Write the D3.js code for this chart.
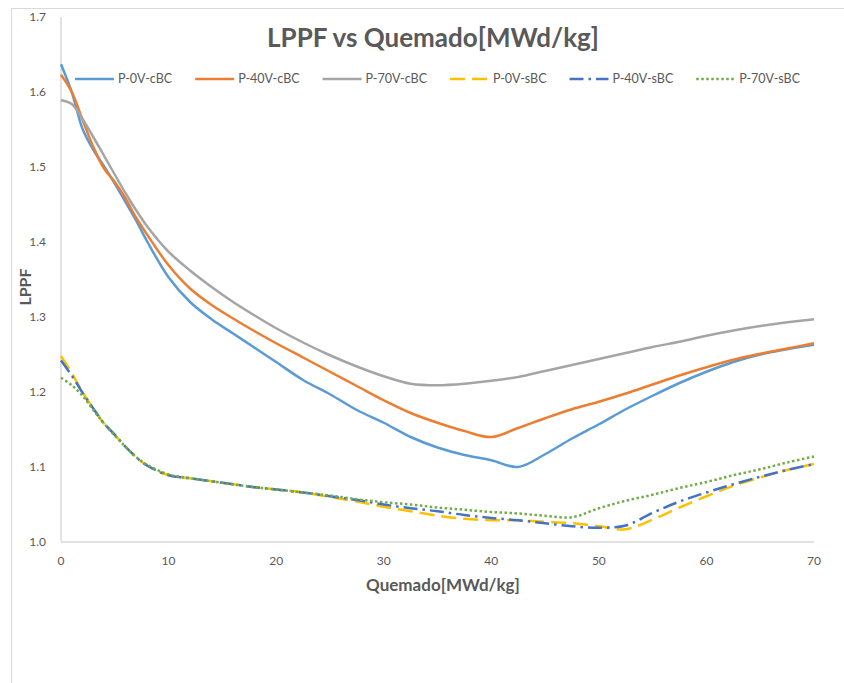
<!DOCTYPE html>
<html>
<head>
<meta charset="utf-8">
<script src="https://cdn.jsdelivr.net/npm/d3@7"></script>
<style>
  body { margin: 0; background: #fff; }
  svg text { font-family: Lato, "Open Sans", sans-serif; fill: #595959; }
</style>
</head>
<body>
<div id="chart"></div>
<script>
// Burnup steps (MWd/kg)
const burnup = [0, 1, 2, 3, 4, 5, 6, 7, 8, 10, 12, 14, 16, 18, 20, 22.5, 25, 27.5, 30, 32.5, 35,
  37.5, 40, 42.5, 45, 47.5, 50, 52.5, 55, 57.5, 60, 62.5, 65, 67.5, 70];

const p0cBC = [1.637, 1.600, 1.551, 1.523, 1.501, 1.478, 1.453, 1.428, 1.401, 1.353, 1.320, 1.297, 1.278, 1.259, 1.240,
  1.216, 1.197, 1.176, 1.159, 1.140, 1.126, 1.116, 1.109, 1.100, 1.117, 1.138, 1.157, 1.177, 1.195, 1.212, 1.227,
  1.240, 1.250, 1.257, 1.263];
const p40cBC = [1.623, 1.600, 1.563, 1.527, 1.498, 1.480, 1.458, 1.432, 1.410, 1.369, 1.338, 1.316, 1.298, 1.281, 1.265,
  1.246, 1.227, 1.208, 1.189, 1.172, 1.159, 1.148, 1.140, 1.152, 1.165, 1.177, 1.187, 1.198, 1.210, 1.222, 1.233,
  1.243, 1.251, 1.258, 1.265];
const p70cBC = [1.589, 1.584, 1.564, 1.540, 1.515, 1.490, 1.465, 1.442, 1.421, 1.387, 1.362, 1.340, 1.320, 1.302, 1.285,
  1.266, 1.249, 1.234, 1.221, 1.211, 1.209, 1.211, 1.215, 1.220, 1.228, 1.236, 1.244, 1.252, 1.260, 1.267, 1.275,
  1.282, 1.288, 1.293, 1.297];
const p0sBC = [1.248, 1.225, 1.200, 1.178, 1.158, 1.143, 1.127, 1.113, 1.102, 1.089, 1.085, 1.081, 1.077, 1.073, 1.070,
  1.066, 1.060, 1.054, 1.047, 1.041, 1.035, 1.031, 1.029, 1.029, 1.027, 1.025, 1.021, 1.017, 1.030, 1.046, 1.061,
  1.075, 1.086, 1.096, 1.104];
const p40sBC = [1.242, 1.222, 1.199, 1.178, 1.158, 1.143, 1.127, 1.113, 1.102, 1.089, 1.085, 1.081, 1.077, 1.073, 1.070,
  1.066, 1.061, 1.056, 1.050, 1.045, 1.041, 1.036, 1.032, 1.029, 1.025, 1.021, 1.019, 1.022, 1.039, 1.054, 1.066,
  1.077, 1.087, 1.096, 1.104];
const p70sBC = [1.219, 1.209, 1.195, 1.176, 1.158, 1.142, 1.127, 1.113, 1.103, 1.090, 1.085, 1.081, 1.077, 1.073, 1.070,
  1.066, 1.062, 1.057, 1.053, 1.050, 1.046, 1.043, 1.040, 1.038, 1.035, 1.033, 1.045, 1.055, 1.063, 1.072, 1.080,
  1.089, 1.097, 1.106, 1.114];

const seriesNames = ["P-0V-cBC", "P-40V-cBC", "P-70V-cBC", "P-0V-sBC", "P-40V-sBC", "P-70V-sBC"];
const seriesValues = [p0cBC, p40cBC, p70cBC, p0sBC, p40sBC, p70sBC];
const colors = ["#5B9BD5", "#ED7D31", "#A5A5A5", "#FFC000", "#4472C4", "#70AD47"];
const dashes = [null, null, null, "15,7", "14,5,2.5,5", "2.5,2.5"];

const xTicks = [0, 10, 20, 30, 40, 50, 60, 70];
const yTicks = [1.0, 1.1, 1.2, 1.3, 1.4, 1.5, 1.6, 1.7];

const width = 844, height = 683;
const margin = { left: 61, right: 30, top: 17, bottom: 141 };

const svg = d3.select("#chart").append("svg")
  .attr("width", width)
  .attr("height", height);

// chart frame
svg.append("rect")
  .attr("x", 11.5).attr("y", 8.5)
  .attr("width", 1000).attr("height", 1000)
  .attr("fill", "none")
  .attr("stroke", "#d9d9d9");

const x = d3.scaleLinear().domain([0, 70]).range([margin.left, width - margin.right]);
const y = d3.scaleLinear().domain([1.0, 1.7]).range([height - margin.bottom, margin.top]);

// axes lines
svg.append("line")
  .attr("x1", x(0)).attr("x2", x(0))
  .attr("y1", y(1.7)).attr("y2", y(1.0))
  .attr("stroke", "#d9d9d9").attr("stroke-width", 1.5);
svg.append("line")
  .attr("x1", x(0)).attr("x2", x(70))
  .attr("y1", y(1.0)).attr("y2", y(1.0))
  .attr("stroke", "#d9d9d9").attr("stroke-width", 1.5);

// tick labels
svg.selectAll(".ytick")
  .data(yTicks)
  .enter().append("text")
  .attr("class", "ytick")
  .attr("x", x(0) - 15)
  .attr("y", d => y(d))
  .attr("dy", "0.35em")
  .attr("text-anchor", "end")
  .style("font-size", "12px")
  .text(d => d3.format(".1f")(d));

svg.selectAll(".xtick")
  .data(xTicks)
  .enter().append("text")
  .attr("class", "xtick")
  .attr("x", d => x(d))
  .attr("y", y(1.0) + 19)
  .attr("dy", "0.35em")
  .attr("text-anchor", "middle")
  .style("font-size", "12px")
  .text(d => d);

// lines
const line = d3.line()
  .x((d, i) => x(burnup[i]))
  .y(d => y(d))
  .curve(d3.curveCatmullRom.alpha(0.5));

svg.append("g").selectAll("path")
  .data(seriesValues)
  .enter().append("path")
  .attr("d", line)
  .attr("fill", "none")
  .attr("stroke", (d, i) => colors[i])
  .attr("stroke-width", 2.5)
  .attr("stroke-dasharray", (d, i) => dashes[i]);

// title
svg.append("text")
  .attr("x", 433)
  .attr("y", 38)
  .attr("dy", "0.35em")
  .attr("text-anchor", "middle")
  .style("font-size", "26px")
  .style("font-weight", "700")
  .text("LPPF vs Quemado[MWd/kg]");

// axis titles
svg.append("text")
  .attr("x", 443)
  .attr("y", 585)
  .attr("dy", "0.35em")
  .attr("text-anchor", "middle")
  .style("font-size", "17px")
  .style("font-weight", "700")
  .text("Quemado[MWd/kg]");

svg.append("text")
  .attr("transform", `translate(25, ${y(1.34)}) rotate(-90)`)
  .attr("dy", "0.35em")
  .attr("text-anchor", "middle")
  .style("font-size", "16px")
  .style("font-weight", "700")
  .text("LPPF");

// legend
const legend = svg.append("g");
const items = legend.selectAll("g")
  .data(seriesNames)
  .enter().append("g");

items.append("line")
  .attr("x1", 0).attr("x2", 39)
  .attr("y1", 0).attr("y2", 0)
  .attr("stroke", (d, i) => colors[i])
  .attr("stroke-width", 2.5)
  .attr("stroke-dasharray", (d, i) => dashes[i]);

items.append("text")
  .attr("x", 43)
  .attr("y", 0)
  .attr("dy", "0.35em")
  .style("font-size", "12.5px")
  .text(d => d);

let cursor = 0;
items.each(function () {
  const w = 43 + d3.select(this).select("text").node().getComputedTextLength();
  d3.select(this).attr("transform", `translate(${cursor}, 0)`);
  cursor += w + 23;
});
const legendWidth = cursor - 23;
legend.attr("transform", `translate(${(x(0) + x(70)) / 2 - legendWidth / 2}, 79)`);
</script>
</body>
</html>
